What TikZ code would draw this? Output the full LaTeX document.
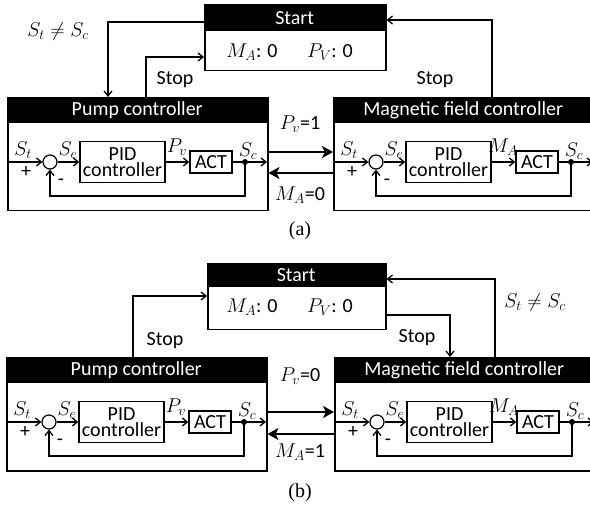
\documentclass[tikz,border=0pt]{standalone}
\usepackage{fix-cm}
\usepackage{fontspec}
\setmainfont{Carlito}
\newfontfamily\timesf{Liberation Serif}
\usetikzlibrary{arrows.meta}
\tikzset{
  sig/.style={line width=1.3pt, -{Straight Barb[length=5pt,width=8pt]}},
  ln/.style={line width=1.3pt},
  thk/.style={line width=2.5pt, -{Stealth[length=11pt,width=12pt,inset=3pt]}},
  frame/.style={draw, line width=1.5pt, inner sep=0, anchor=north west},
  hdr/.style={fill=black, text=white, inner sep=0, anchor=north west},
  blk/.style={draw, line width=1.3pt, inner sep=0, align=center},
  sumc/.style={circle, draw, line width=1.2pt, minimum size=14pt, inner sep=0},
  dotn/.style={circle, fill, minimum size=6pt, inner sep=0},
  lab/.style={inner sep=0},
}
\newcommand\DrawCtrl[5]{%
 \begin{scope}[shift={(#2,#3)}]
  \node[frame, minimum width=260pt, minimum height=113pt] (#1) at (0,0) {};
  \node[hdr, minimum width=260pt, minimum height=26pt] (#1h) at (0,0) {#4};
  \node[sumc] (#1s) at (43,65) {};
  \node[blk, minimum width=85pt, minimum height=41pt] (#1p) at (115.5,65) {PID\\controller};
  \node[blk, minimum width=42pt, minimum height=22pt] (#1a) at (204,65) {ACT};
  \node[dotn] (#1d) at (238,65) {};
  \coordinate (#1i) at (0,65);
  \coordinate (#1o) at (260,65);
  \coordinate (#1f) at (238,99);
  \draw[sig] (#1i) -- (#1s);
  \draw[sig] (#1s) -- (#1p);
  \draw[sig] (#1p) -- (#1a);
  \draw[ln] (#1a) -- (#1d);
  \draw[sig] (#1d) -- (#1o);
  \draw[sig] (#1d.center) -- (#1f) -| (#1s);
  \node[lab] (#1lt) at (16,53) {$S_t$};
  \node[lab] (#1le) at (61,53) {$S_e$};
  \node[lab] (#1lm) at (170,50) {#5};
  \node[lab] (#1lc) at (241,54) {$S_c$};
  \node[lab] (#1lp) at (19,75) {+};
  \node[lab] (#1ln) at (54,85) {-};
 \end{scope}}
\begin{document}
\begin{tikzpicture}[x=1pt, y=-1pt, font=\fontsize{20}{16}\selectfont]
\useasboundingbox (0,0) rectangle (590,508);
\clip (0,0) rectangle (590,508);
% ---------- (a)
\node[frame, minimum width=181pt, minimum height=66pt] (sa) at (204,4) {};
\node[hdr, minimum width=181pt, minimum height=27pt] (sah) at (204,4) {Start};
\node[lab] (sam) at (252,52) {$M_A$: 0};
\node[lab] (sap) at (330,52) {$P_V$: 0};
\DrawCtrl{pa}{7}{97}{Pump controller}{$P_v$}
\DrawCtrl{ma}{333}{97}{Magnetic field controller}{$M_A$}
\coordinate (a1) at (108,22);
\coordinate (a2) at (146,57);
\coordinate (a3) at (492,20);
\coordinate (a4) at (300,152);
\coordinate (a5) at (300,173);
\draw[sig] (sa.west |- a1) -- (a1) -- (a1 |- pa.north);
\draw[sig] (a2 |- pa.north) -- (a2) -- (sa.west |- a2);
\draw[sig] (a3 |- ma.north) -- (a3) -- (sa.east |- a3);
\draw[thk] (pa.east |- a4) -- (ma.west |- a4);
\draw[thk] (ma.west |- a5) -- (pa.east |- a5);
\node[lab] (ane) at (58,32) {$S_t \neq S_c$};
\node[lab] (as1) at (175,80) {Stop};
\node[lab] (as2) at (435,80) {Stop};
\node[lab] (apv) at (300,124) {$P_v$=1};
\node[lab] (ama) at (300,195) {$M_A$=0};
\node[lab] (acap) at (300,231) {\timesf (a)};
% ---------- (b)
\node[frame, minimum width=178pt, minimum height=66pt] (sb) at (207,263) {};
\node[hdr, minimum width=178pt, minimum height=24pt] (sbh) at (207,263) {Start};
\node[lab] (sbm) at (252,307) {$M_A$: 0};
\node[lab] (sbp) at (330,307) {$P_V$: 0};
\DrawCtrl{pb}{6}{357}{Pump controller}{$P_v$}
\DrawCtrl{mb}{334}{357}{Magnetic field controller}{$M_A$}
\coordinate (b1) at (133,296);
\coordinate (b2) at (450,315);
\coordinate (b3) at (495,279);
\coordinate (b4) at (300,412);
\coordinate (b5) at (300,434);
\draw[sig] (b1 |- pb.north) -- (b1) -- (sb.west |- b1);
\draw[sig] (sb.east |- b2) -- (b2) -- (b2 |- mb.north);
\draw[sig] (b3 |- mb.north) -- (b3) -- (sb.east |- b3);
\draw[thk] (pb.east |- b4) -- (mb.west |- b4);
\draw[thk] (mb.west |- b5) -- (pb.east |- b5);
\node[lab] (bs1) at (165,341) {Stop};
\node[lab] (bs2) at (417,338) {Stop};
\node[lab] (bne) at (535,303) {$S_t \neq S_c$};
\node[lab] (bpv) at (300,376) {$P_v$=0};
\node[lab] (bma) at (300,452) {$M_A$=1};
\node[lab] (bcap) at (300,493) {\timesf (b)};
\end{tikzpicture}
\end{document}
